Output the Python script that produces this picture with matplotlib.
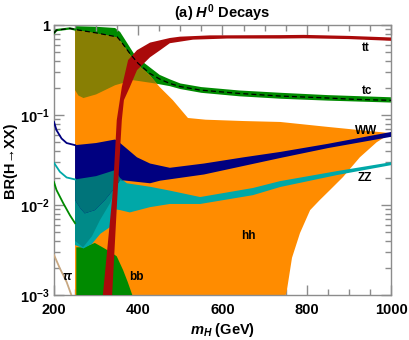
import matplotlib
matplotlib.use("Agg")
import matplotlib.pyplot as plt
import numpy as np
from matplotlib.ticker import FixedLocator, NullFormatter

plt.rcParams['font.family'] = ['Liberation Sans', 'DejaVu Sans']
plt.rcParams['font.weight'] = 'bold'
plt.rcParams['mathtext.fontset'] = 'custom'
plt.rcParams['mathtext.rm'] = 'Liberation Sans:bold'
plt.rcParams['mathtext.it'] = 'Liberation Sans:bold:italic'
plt.rcParams['mathtext.bf'] = 'Liberation Sans:bold'

# ---- data ----
# tc: thin line below threshold, band above, dashed central value
tc_line_m = [200, 206, 222, 238, 250]
tc_line_br = [0.82, 0.88, 0.90, 0.92, 0.895]
tc_mid_m = [200, 206, 222, 238, 250, 300, 350, 360, 380, 400, 428, 452, 475, 499, 547, 642, 737, 850, 912, 1000]
tc_mid_br = [0.82, 0.88, 0.90, 0.92, 0.895, 0.82, 0.74, 0.65, 0.485, 0.375, 0.29, 0.25, 0.225, 0.208, 0.19, 0.174, 0.163, 0.155, 0.15, 0.146]
tc_up_m = [250, 300, 345, 357, 375, 390, 411, 451, 475, 500, 550, 640, 740, 850, 1000]
tc_up_br = [0.975, 0.96, 0.93, 0.84, 0.62, 0.48, 0.39, 0.28, 0.25, 0.225, 0.205, 0.188, 0.177, 0.167, 0.158]
tc_lo_m = [250, 258, 270, 300, 345, 387, 440, 475, 500, 550, 640, 740, 850, 1000]
tc_lo_br = [0.19, 0.165, 0.155, 0.17, 0.215, 0.245, 0.225, 0.21, 0.195, 0.177, 0.162, 0.152, 0.145, 0.138]

# hh band
hh_up_m = [250, 300, 350, 360, 380, 400, 428, 451, 482, 518, 560, 650, 737, 850, 1000]
hh_up_br = [0.88, 0.81, 0.73, 0.64, 0.47, 0.36, 0.275, 0.205, 0.147, 0.093, 0.089, 0.086, 0.084, 0.074, 0.063]
hh_lo_m = [250, 740, 750, 753, 765, 784, 808, 831, 855, 886, 926, 966, 1000]
hh_lo_br = [5e-4, 5e-4, 1.0e-3, 0.00114, 0.0026, 0.0049, 0.0088, 0.0114, 0.0147, 0.0205, 0.034, 0.05, 0.063]

# WW
ww_line_m = [200, 206, 218, 230, 250]
ww_line_br = [0.084, 0.068, 0.055, 0.049, 0.0464]
ww_up_m = [250, 300, 345, 357, 397, 428, 475, 556, 650, 737, 850, 1000]
ww_up_br = [0.0464, 0.049, 0.0536, 0.049, 0.034, 0.029, 0.026, 0.029, 0.034, 0.039, 0.048, 0.065]
ww_lo_m = [250, 262, 273, 297, 321, 340, 349, 357, 380, 428, 452, 556, 737, 850, 1000]
ww_lo_br = [0.0114, 0.0093, 0.0081, 0.0088, 0.0114, 0.0147, 0.0167, 0.019, 0.0185, 0.0175, 0.0187, 0.0219, 0.0334, 0.043, 0.0574]

# ZZ
zz_line_m = [200, 214, 230, 250]
zz_line_br = [0.0295, 0.0235, 0.0203, 0.0193]
zz_up_m = [250, 300, 345, 357, 373, 428, 475, 547, 672, 737, 872, 1000]
zz_up_br = [0.0193, 0.021, 0.0245, 0.02, 0.0175, 0.016, 0.0145, 0.0123, 0.0155, 0.0185, 0.0239, 0.030]
zz_lo_m = [250, 270, 290, 310, 333, 340, 345, 357, 380, 428, 475, 547, 672, 737, 872, 1000]
zz_lo_br = [0.0036, 0.0033, 0.0037, 0.0048, 0.0057, 0.0074, 0.009, 0.0088, 0.0083, 0.0095, 0.0103, 0.0103, 0.0129, 0.0159, 0.0216, 0.0278]
# darker part of the ZZ region just above threshold
zd_up_m = [250, 345]
zd_up_br = [0.03, 0.03]
zd_lo_m = [250, 269, 290, 309, 333, 345]
zd_lo_br = [0.004, 0.0034, 0.0045, 0.0068, 0.0105, 0.0147]

# bb
bb_line_m = [200, 206, 222, 238, 250]
bb_line_br = [0.018, 0.0147, 0.0105, 0.0077, 0.0063]
bb_up_m = [253, 270, 297, 320, 335, 349, 364, 375, 386, 392]
bb_up_br = [0.0034, 0.0034, 0.0038, 0.0033, 0.003, 0.0027, 0.0019, 0.0014, 0.001, 0.0008]

# tau tau
ta_m = [200, 214, 230, 240, 245]
ta_br = [0.0028, 0.00198, 0.0014, 0.00104, 0.00088]

# tt band
tt_up_m = [310, 316, 340, 349, 361, 376, 397, 428, 475, 499, 570, 737, 793, 900, 1000]
tt_up_br = [0.0006, 0.001, 0.0147, 0.088, 0.205, 0.41, 0.527, 0.64, 0.72, 0.745, 0.77, 0.775, 0.78, 0.76, 0.73]
tt_lo_m = [336, 338, 350, 361, 366, 380, 397, 428, 452, 475, 530, 611, 737, 793, 900, 1000]
tt_lo_br = [0.0006, 0.001, 0.0114, 0.088, 0.147, 0.205, 0.316, 0.44, 0.527, 0.63, 0.69, 0.71, 0.71, 0.715, 0.70, 0.67]

labels = ['tt', 'tc', 'WW', 'ZZ', 'hh', 'ττ', 'bb']
label_m = [940, 943, 940, 938, 662, 233, 395]
label_br = [0.56, 0.187, 0.066, 0.020, 0.0045, 0.00158, 0.0016]

c_orange = '#ff8c00'
c_green = '#008a00'
c_olive = '#887f04'
c_red = '#aa0a0a'
c_navy = '#000080'
c_teal = '#00a8a8'
c_dteal = '#008a88'
c_ddteal = '#00747a'
c_tan = '#c8a882'


def band(ax, m_up, br_up, m_lo, br_lo, **kw):
    xs = np.concatenate([m_up, m_lo[::-1]])
    ys = np.concatenate([br_up, br_lo[::-1]])
    return ax.fill(xs, ys, lw=0, **kw)[0]


fig = plt.figure(figsize=(4.09, 3.40), dpi=100)
ax = fig.add_axes([0.132, 0.132, 0.824, 0.794])
ax.set_yscale('log')
ax.set_xlim(200, 1000)
ax.set_ylim(1e-3, 1)

# hh and tc; overlap drawn olive (tc band clipped to hh band)
band(ax, tc_up_m, tc_up_br, tc_lo_m, tc_lo_br, color=c_green, zorder=1)
hh_poly = band(ax, hh_up_m, hh_up_br, hh_lo_m, hh_lo_br, color=c_orange, zorder=2)
ov = band(ax, tc_up_m, tc_up_br, tc_lo_m, tc_lo_br, color=c_olive, zorder=3)
ov.set_clip_path(hh_poly)

# bb, ZZ, WW; overlaps with ZZ drawn in darker teals
band(ax, bb_up_m, bb_up_br, [bb_up_m[0], bb_up_m[-1]], [5e-4, 5e-4], color=c_green, zorder=4)
zz_poly = band(ax, zz_up_m, zz_up_br, zz_lo_m, zz_lo_br, color=c_teal, zorder=5)
ov2 = band(ax, zd_up_m, zd_up_br, zd_lo_m, zd_lo_br, color=c_dteal, zorder=6)
ov2.set_clip_path(zz_poly)
band(ax, ww_up_m, ww_up_br, ww_lo_m, ww_lo_br, color=c_navy, zorder=7)
ov3 = band(ax, ww_up_m, ww_up_br, ww_lo_m, ww_lo_br, color=c_ddteal, zorder=8)
ov3.set_clip_path(zz_poly)

# tt
band(ax, tt_up_m, tt_up_br, tt_lo_m, tt_lo_br, color=c_red, zorder=9)

# lines below threshold
ax.plot(tc_line_m, tc_line_br, color=c_green, lw=1.6, zorder=10)
ax.plot(ww_line_m, ww_line_br, color=c_navy, lw=1.3, zorder=10)
ax.plot(zz_line_m, zz_line_br, color=c_teal, lw=1.3, zorder=10)
ax.plot(bb_line_m, bb_line_br, color=c_green, lw=1.3, zorder=10)
ax.plot(ta_m, ta_br, color=c_tan, lw=1.3, zorder=10)
ax.plot(tc_mid_m, tc_mid_br, color='black', lw=0.9, ls=(0, (4, 2.5)), zorder=11)

for lab, m, br in zip(labels, label_m, label_br):
    style = 'italic' if lab == 'ττ' else 'normal'
    ax.text(m, br, lab, fontsize=8.5, fontweight='bold', style=style,
            ha='center', va='center', zorder=12)

# axes styling
for s in ax.spines.values():
    s.set_color('#8c8c8c')
    s.set_linewidth(1.0)
ax.set_xticks([200, 400, 600, 800, 1000])
ax.xaxis.set_minor_locator(FixedLocator(np.arange(200, 1001, 50)))
ax.set_yticks([1e-3, 1e-2, 1e-1, 1])
ax.set_yticklabels([r'$10^{-3}$', r'$10^{-2}$', r'$10^{-1}$', '1'])
ax.yaxis.set_minor_formatter(NullFormatter())
ax.tick_params(which='both', direction='in', top=True, right=True, color='#8c8c8c', width=1.0)
ax.tick_params(which='major', length=7, labelsize=10.5)
ax.tick_params(axis='x', which='major', pad=6)
ax.tick_params(axis='y', which='major', pad=3)
ax.tick_params(which='minor', length=4)
for t in ax.get_xticklabels() + ax.get_yticklabels():
    t.set_fontweight('bold')

ax.set_xlabel(r'$m_H$ (GeV)', fontsize=10.5, fontweight='bold')
ax.xaxis.set_label_coords(0.5, -0.095)
ax.set_ylabel('BR(H→XX)', fontsize=10.5, fontweight='bold', labelpad=2)
ax.set_title(r'(a) $H^0$ Decays', fontsize=10.5, fontweight='bold', pad=5)

fig.savefig('out.png', dpi=100)
